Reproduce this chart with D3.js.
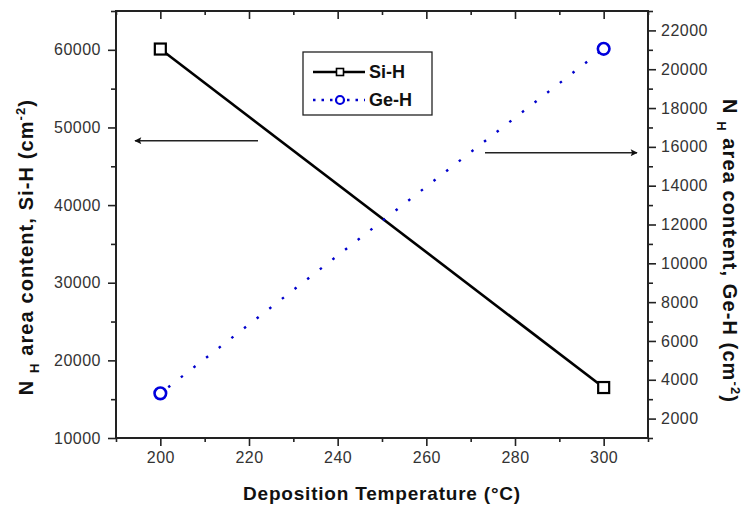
<!DOCTYPE html>
<html>
<head>
<meta charset="utf-8">
<script src="https://cdn.jsdelivr.net/npm/d3@7"></script>
<style>
  html, body { margin: 0; padding: 0; background: #fff; }
  svg { display: block; }
  text { font-family: Arial, "Liberation Sans", sans-serif; }
</style>
</head>
<body>
<svg id="chart" width="749" height="508"></svg>
<script>
// Deposition temperatures (°C)
const temperatures = [200, 300];
// Hydrogen area content from Si-H bonds (cm^-2), left axis
const siH = [60100, 16500];
// Hydrogen area content from Ge-H bonds (cm^-2), right axis
const geH = [3300, 21050];

const xTicks = [200, 220, 240, 260, 280, 300];
const leftTicks = [10000, 20000, 30000, 40000, 50000, 60000];
const rightTicks = [2000, 4000, 6000, 8000, 10000, 12000, 14000, 16000, 18000, 20000, 22000];

const svg = d3.select("#chart");
const plot = { left: 116, right: 648, top: 11, bottom: 438 };

const x = d3.scaleLinear().domain([190, 310]).range([plot.left, plot.right]);
const yL = d3.scaleLinear().domain([10000, 65000]).range([plot.bottom, plot.top]);
const yR = d3.scaleLinear().domain([1000, 23000]).range([plot.bottom, plot.top]);

const axisColor = "#222";
const labelColor = "#333";

function styleAxis(g) {
  g.select(".domain").remove();
  g.selectAll("line").attr("stroke", axisColor).attr("stroke-width", 1.6);
  g.selectAll("text").attr("fill", labelColor)
    .style("font-size", "16px").style("letter-spacing", "0.5px");
}

// minor ticks
const xMinor = d3.range(190, 311, 10).filter(v => xTicks.indexOf(v) < 0);
const leftMinor = d3.range(15000, 65001, 10000);
const rightMinor = d3.range(1000, 23001, 2000);

// bottom axis
svg.append("g").attr("transform", `translate(0,${plot.bottom})`)
  .call(d3.axisBottom(x).tickValues(xTicks).tickSize(8).tickPadding(6).tickFormat(d3.format("d")))
  .call(styleAxis);
svg.append("g").attr("transform", `translate(0,${plot.bottom})`)
  .call(d3.axisBottom(x).tickValues(xMinor).tickSize(4).tickFormat(""))
  .call(styleAxis);

// top axis (ticks inward)
svg.append("g").attr("transform", `translate(0,${plot.top})`)
  .call(d3.axisBottom(x).tickValues(xTicks).tickSize(8).tickFormat(""))
  .call(styleAxis);
svg.append("g").attr("transform", `translate(0,${plot.top})`)
  .call(d3.axisBottom(x).tickValues(xMinor).tickSize(4).tickFormat(""))
  .call(styleAxis);

// left axis
svg.append("g").attr("transform", `translate(${plot.left},0)`)
  .call(d3.axisLeft(yL).tickValues(leftTicks).tickSize(8).tickPadding(7).tickFormat(d3.format("d")))
  .call(styleAxis);
svg.append("g").attr("transform", `translate(${plot.left},0)`)
  .call(d3.axisLeft(yL).tickValues(leftMinor).tickSize(5).tickFormat(""))
  .call(styleAxis);

// right axis
svg.append("g").attr("transform", `translate(${plot.right},0)`)
  .call(d3.axisRight(yR).tickValues(rightTicks).tickSize(8).tickPadding(5).tickFormat(d3.format("d")))
  .call(styleAxis);
svg.append("g").attr("transform", `translate(${plot.right},0)`)
  .call(d3.axisRight(yR).tickValues(rightMinor).tickSize(5).tickFormat(""))
  .call(styleAxis);

// frame
svg.append("rect")
  .attr("x", plot.left).attr("y", plot.top)
  .attr("width", plot.right - plot.left).attr("height", plot.bottom - plot.top)
  .attr("fill", "none").attr("stroke", axisColor).attr("stroke-width", 2);

// series
const siData = temperatures.map((t, i) => [t, siH[i]]);
const geData = temperatures.map((t, i) => [t, geH[i]]);

svg.append("path")
  .datum(siData)
  .attr("d", d3.line().x(d => x(d[0])).y(d => yL(d[1])))
  .attr("fill", "none").attr("stroke", "#000").attr("stroke-width", 2.6);

svg.append("path")
  .datum(geData)
  .attr("d", d3.line().x(d => x(d[0])).y(d => yR(d[1])))
  .attr("fill", "none").attr("stroke", "#0000cc").attr("stroke-width", 2.4)
  .attr("stroke-dasharray", "2.5,13.5").attr("stroke-dashoffset", -10);

svg.selectAll(".si-pt").data(siData).enter().append("rect")
  .attr("x", d => x(d[0]) - 5.5).attr("y", d => yL(d[1]) - 5.5)
  .attr("width", 11).attr("height", 11)
  .attr("fill", "#fff").attr("stroke", "#000").attr("stroke-width", 2.2);

svg.selectAll(".ge-pt").data(geData).enter().append("circle")
  .attr("cx", d => x(d[0])).attr("cy", d => yR(d[1])).attr("r", 5.8)
  .attr("fill", "#fff").attr("stroke", "#0000dd").attr("stroke-width", 2.6);

// direction arrows
const defs = svg.append("defs");
defs.append("marker").attr("id", "head")
  .attr("viewBox", "0 0 10 10").attr("refX", 9).attr("refY", 5)
  .attr("markerWidth", 14).attr("markerHeight", 7).attr("markerUnits", "userSpaceOnUse")
  .attr("orient", "auto")
  .append("path").attr("d", "M0,0 L10,5 L0,10 L2,5 Z").attr("fill", "#111");

svg.append("line")
  .attr("x1", 258).attr("y1", yL(48300)).attr("x2", 135).attr("y2", yL(48300))
  .attr("stroke", "#222").attr("stroke-width", 1.5).attr("marker-end", "url(#head)");
svg.append("line")
  .attr("x1", 485).attr("y1", yR(15700)).attr("x2", 637).attr("y2", yR(15700))
  .attr("stroke", "#222").attr("stroke-width", 1.5).attr("marker-end", "url(#head)");

// legend
const lg = svg.append("g").attr("transform", "translate(303,52)");
lg.append("rect").attr("width", 129).attr("height", 63)
  .attr("fill", "#fff").attr("stroke", "#222").attr("stroke-width", 1.3);
lg.append("line").attr("x1", 10).attr("x2", 62).attr("y1", 20).attr("y2", 20)
  .attr("stroke", "#000").attr("stroke-width", 2.6);
lg.append("rect").attr("x", 33.5).attr("y", 16.5).attr("width", 7).attr("height", 7)
  .attr("fill", "#fff").attr("stroke", "#000").attr("stroke-width", 1.6);
lg.append("text").attr("x", 66).attr("y", 26).text("Si-H")
  .style("font-size", "18px").style("font-weight", "bold").attr("fill", "#111");
lg.append("line").attr("x1", 10).attr("x2", 62).attr("y1", 48).attr("y2", 48)
  .attr("stroke", "#0000cc").attr("stroke-width", 2.4).attr("stroke-dasharray", "2.5,6");
lg.append("circle").attr("cx", 37).attr("cy", 48).attr("r", 4)
  .attr("fill", "#fff").attr("stroke", "#0000dd").attr("stroke-width", 2.2);
lg.append("text").attr("x", 66).attr("y", 54).text("Ge-H")
  .style("font-size", "18px").style("font-weight", "bold").attr("fill", "#111");

// axis titles
svg.append("text")
  .attr("x", 382).attr("y", 500)
  .attr("text-anchor", "middle")
  .style("font-size", "19px").style("font-weight", "bold").style("letter-spacing", "0.8px")
  .attr("fill", "#111")
  .text("Deposition Temperature (°C)");

function yTitle(tx, ty, angle, label) {
  const t = svg.append("text")
    .attr("transform", `translate(${tx},${ty}) rotate(${angle})`)
    .attr("text-anchor", "middle")
    .style("font-size", "20px").style("font-weight", "bold").style("letter-spacing", "1.1px")
    .attr("fill", "#111");
  t.append("tspan").text("N ");
  t.append("tspan").attr("dy", 6).style("font-size", "13px").text("H");
  t.append("tspan").attr("dy", -6).text(" area content, " + label + " (cm");
  t.append("tspan").attr("dy", -8).style("font-size", "13px").text("-2");
  t.append("tspan").attr("dy", 8).text(")");
}
yTitle(33, 247, -90, "Si-H");
yTitle(723, 251, 90, "Ge-H");
</script>
</body>
</html>
